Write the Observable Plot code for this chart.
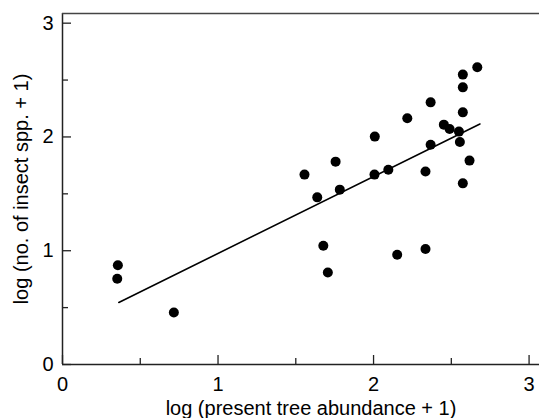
<!DOCTYPE html>
<html>
<head>
<meta charset="utf-8">
<script src="https://cdn.jsdelivr.net/npm/d3@7"></script>
<script src="https://cdn.jsdelivr.net/npm/@observablehq/plot@0.6"></script>
<style>
  html, body { margin: 0; padding: 0; background: #fff; }
  #chart svg { display: block; }
</style>
</head>
<body>
<div id="chart"></div>
<script>
// log (present tree abundance + 1)
const treeAbundance = [2.667, 2.574, 2.574, 2.367, 2.574, 2.217, 2.452, 2.489, 2.549, 2.008,
  2.555, 2.367, 1.756, 2.617, 1.556, 2.006, 2.095, 2.334, 2.574, 1.783,
  1.638, 1.677, 1.706, 2.152, 2.334, 0.356, 0.352, 0.716];
// log (no. of insect spp. + 1)
const insectSpp = [2.612, 2.548, 2.436, 2.304, 2.216, 2.164, 2.108, 2.070, 2.047, 2.003,
  1.956, 1.932, 1.783, 1.792, 1.669, 1.669, 1.712, 1.697, 1.592, 1.537,
  1.469, 1.044, 0.809, 0.965, 1.015, 0.873, 0.754, 0.457];
// regression line end points
const fitX = [0.362, 2.684];
const fitY = [0.545, 2.114];

const majorTicks = [0, 1, 2, 3];
const minorTicks = [0.5, 1.5, 2.5];
const xDomain = [0, 3.067];
const yDomain = [0, 3.085];
const xTitle = "log (present tree abundance + 1)";
const yTitle = "log (no. of insect spp. + 1)";

const points = treeAbundance.map((x, i) => ({x, y: insectSpp[i]}));
const fit = fitX.map((x, i) => ({x, y: fitY[i]}));

const font = "Liberation Sans, Arial, Helvetica, sans-serif";

const chart = Plot.plot({
  width: 539,
  height: 418,
  marginLeft: 62,
  marginRight: 0,
  marginTop: 13,
  marginBottom: 54,
  style: {fontFamily: font, fontSize: "20px", color: "#000", background: "#fff"},
  x: {domain: xDomain},
  y: {domain: yDomain},
  marks: [
    Plot.ruleX([xDomain[0]], {stroke: "#222", strokeWidth: 1.5}),
    Plot.ruleY([yDomain[0]], {stroke: "#222", strokeWidth: 1.5}),
    Plot.ruleY([yDomain[1]], {stroke: "#444", strokeWidth: 1.5}),
    Plot.axisX(majorTicks, {tickSize: -9, text: null, label: null, strokeWidth: 1.3, stroke: "#222"}),
    Plot.axisX(minorTicks, {tickSize: -6, text: null, label: null, strokeWidth: 1.3, stroke: "#222"}),
    Plot.axisY(majorTicks, {tickSize: -9, text: null, label: null, strokeWidth: 1.3, stroke: "#222"}),
    Plot.axisY(minorTicks, {tickSize: -6, text: null, label: null, strokeWidth: 1.3, stroke: "#222"}),
    Plot.axisX(majorTicks, {tickSize: 0, tickPadding: 12, fontSize: 20, tickFormat: d3.format("d"), label: null}),
    Plot.axisY(majorTicks, {tickSize: 0, tickPadding: 9, fontSize: 20, tickFormat: d3.format("d"), label: null}),
    Plot.text([xTitle], {text: d => d, frameAnchor: "bottom", dy: 44, dx: 10, lineAnchor: "middle", textAnchor: "middle", fontSize: 20}),
    Plot.text([yTitle], {text: d => d, frameAnchor: "left", dx: -41, rotate: -90, lineAnchor: "middle", textAnchor: "middle", fontSize: 20}),
    Plot.line(fit, {x: "x", y: "y", stroke: "#000", strokeWidth: 1.6}),
    Plot.dot(points, {x: "x", y: "y", r: 5, fill: "#000", stroke: "none"})
  ]
});
document.getElementById("chart").appendChild(chart);
</script>
</body>
</html>
